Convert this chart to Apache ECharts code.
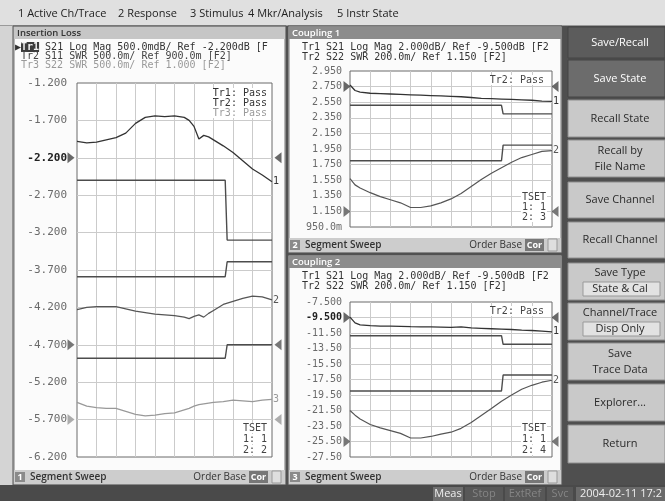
<!DOCTYPE html>
<html>
<head>
<meta charset="utf-8">
<title>Save/Recall</title>
<script src="https://cdn.jsdelivr.net/npm/echarts@6.0.0/dist/echarts.min.js"></script>
<style>
  html, body { margin: 0; padding: 0; background: #4f4f4f; }
  #chart { width: 665px; height: 501px; }
</style>
</head>
<body>
<div id="chart"></div>
<script>
// ch1 insertion loss, x is % of the sweep span
var lossX = [0, 5, 10, 15, 20, 25, 30, 35, 40, 45, 50, 55, 57.5, 60, 62.5, 65, 67.5, 70, 75, 80, 85, 90, 95, 100];
var lossTr1 = [-1.98, -2.00, -1.99, -1.96, -1.93, -1.87, -1.74, -1.66, -1.64, -1.65, -1.64, -1.66, -1.70, -1.78, -1.95, -1.90, -1.92, -1.96, -2.04, -2.13, -2.24, -2.35, -2.43, -2.52];
var lossTr2 = [-4.23, -4.20, -4.19, -4.19, -4.19, -4.22, -4.25, -4.27, -4.29, -4.30, -4.31, -4.33, -4.35, -4.32, -4.30, -4.33, -4.28, -4.24, -4.16, -4.12, -4.08, -4.05, -4.06, -4.10];
var lossTr3 = [-5.47, -5.52, -5.54, -5.55, -5.55, -5.59, -5.63, -5.65, -5.64, -5.62, -5.61, -5.57, -5.55, -5.52, -5.50, -5.49, -5.48, -5.47, -5.46, -5.44, -5.45, -5.46, -5.44, -5.43];
var lossLimX = [0, 76, 77, 100];
var lossLimA = [-2.50, -2.50, -3.30, -3.30];
var lossLimB = [-3.79, -3.79, -3.59, -3.59];
var lossLimC = [-4.88, -4.88, -4.70, -4.70];
var lossRefs = [-2.2, -4.7, -5.7];
var lossTicks = ['-1.200', '-1.700', '-2.200', '-2.700', '-3.200', '-3.700', '-4.200', '-4.700', '-5.200', '-5.700', '-6.200'];

// ch2 / ch3 coupling
var cplX = [0, 2.5, 5, 10, 15, 20, 25, 30, 35, 40, 45, 50, 55, 60, 65, 70, 75, 80, 85, 90, 95, 100];
var cplLimX = [0, 75, 75.8, 100];

var c1Tr1 = [2.77, 2.70, 2.68, 2.665, 2.66, 2.655, 2.65, 2.645, 2.64, 2.635, 2.63, 2.625, 2.62, 2.61, 2.60, 2.595, 2.59, 2.585, 2.58, 2.575, 2.565, 2.56];
var c1Tr2 = [1.57, 1.49, 1.45, 1.39, 1.34, 1.30, 1.26, 1.20, 1.20, 1.22, 1.26, 1.31, 1.38, 1.47, 1.56, 1.64, 1.71, 1.78, 1.84, 1.88, 1.92, 1.93];
var c1LimA = [2.51, 2.51, 2.40, 2.40];
var c1LimB = [1.80, 1.80, 2.00, 2.00];
var c1Refs = [2.75, 1.15];
var c1Ticks = ['2.950', '2.750', '2.550', '2.350', '2.150', '1.950', '1.750', '1.550', '1.350', '1.150', '950.0m'];

var c2Tr1 = [-9.45, -10.2, -10.45, -10.55, -10.6, -10.62, -10.65, -10.68, -10.7, -10.72, -10.75, -10.78, -10.7, -10.85, -10.9, -10.95, -11.0, -11.05, -11.12, -11.18, -11.25, -11.35];
var c2Tr2 = [-21.5, -22.1, -22.6, -23.3, -23.75, -24.1, -24.45, -25.05, -25.05, -24.85, -24.55, -24.3, -23.8, -23.05, -22.15, -21.25, -20.3, -19.5, -18.75, -18.25, -17.85, -17.6];
var c2LimA = [-11.85, -11.85, -12.96, -12.96];
var c2LimB = [-18.98, -18.98, -16.92, -16.92];
var c2Refs = [-9.5, -25.5];
var c2Ticks = ['-7.500', '-9.500', '-11.50', '-13.50', '-15.50', '-17.50', '-19.50', '-21.50', '-23.50', '-25.50', '-27.50'];

var MONO = '"DejaVu Sans Mono", monospace';
var SANS = '"Open Sans", "DejaVu Sans", sans-serif';

function pairs(xs, ys) {
    return xs.map(function (x, i) { return [x, ys[i]]; });
}

// ---- screen chrome (graphic elements) ----
var g = [];
function rect(x, y, w, h, fill, stroke) {
    g.push({ type: 'rect', z: -10, silent: true, shape: { x: x, y: y, width: w, height: h },
        style: { fill: fill, stroke: stroke || 'none', lineWidth: 1 } });
}
function text(x, y, s, font, color, align, extra) {
    var st = { text: s, font: font, fill: color, textAlign: align || 'left', textVerticalAlign: 'middle' };
    if (extra) for (var k in extra) st[k] = extra[k];
    g.push({ type: 'text', z: 50, silent: true, x: x, y: y, style: st });
}

// menu bar
rect(0, 0, 665, 26, '#e0e0e0');
rect(0, 25, 665, 1, '#9a9a9a');
rect(0, 26, 13, 460, '#d4d4d4');
var menu = [['1 Active Ch/Trace', 18], ['2 Response', 118], ['3 Stimulus', 190], ['4 Mkr/Analysis', 248], ['5 Instr State', 337]];
menu.forEach(function (m) { text(m[1], 14, m[0], '11px ' + SANS, '#222'); });

// panels
function panel(x, y, w, h, title, titleDark, num, barY) {
    rect(x, y, w, h, '#b8b8b8', '#555');
    rect(x + 1, y + 1, w - 2, 12, titleDark ? '#8c8c8c' : '#c6c6c6');
    text(x + 4, y + 7, title, '600 9.5px ' + SANS, titleDark ? '#fff' : '#333');
    rect(x + 2, y + 13, w - 4, barY - y - 13, '#fbfbfb');
    rect(x + 1, barY, w - 2, 14, '#cdcdcd');
    rect(x + 2, barY + 2, 10, 10, '#8a8a8a');
    text(x + 7, barY + 7, num, 'bold 9px ' + SANS, '#fff', 'center');
    text(x + 17, barY + 7, 'Segment Sweep', '600 10px ' + SANS, '#333');
    text(x + w - 40, barY + 7, 'Order Base', '10px ' + SANS, '#333', 'right');
    rect(x + w - 37, barY + 1, 19, 12, '#777');
    text(x + w - 27.5, barY + 7, 'Cor', 'bold 9px ' + SANS, '#fff', 'center');
    rect(x + w - 14, barY + 1, 9, 12, '#dedede', '#999');
}
panel(13, 26, 273, 459, 'Insertion Loss', false, '1', 470);
panel(288, 26, 274, 227, 'Coupling 1', true, '2', 238);
panel(288, 255, 274, 230, 'Coupling 2', true, '3', 470);

// trace headers
var hdr = '10px ' + MONO;
text(15, 47, '\u25B6{a|Tr1} S21 Log Mag 500.0mdB/ Ref -2.200dB [F', hdr, '#333', 'left',
    { rich: { a: { backgroundColor: '#3c3c3c', fill: '#f2f2f2', font: 'bold 10px ' + MONO } } });
text(21, 56, 'Tr2 S11 SWR 500.0m/ Ref 900.0m [F2]', hdr, '#444');
text(21, 65, 'Tr3 S22 SWR 500.0m/ Ref 1.000 [F2]', hdr, '#999');
[[47, 57], [276, 286]].forEach(function (ys) {
    text(302, ys[0], 'Tr1 S21 Log Mag 2.000dB/ Ref -9.500dB [F2', hdr, '#333');
    text(302, ys[1], 'Tr2 S22 SWR 200.0m/ Ref 1.150 [F2]', hdr, '#333');
});

// limit test / trace set notes inside the plots
var note = { backgroundColor: '#fff', padding: [0, 1] };
text(268, 93, 'Tr1: Pass', hdr, '#333', 'right', note);
text(268, 103, 'Tr2: Pass', hdr, '#333', 'right', note);
text(268, 113, 'Tr3: Pass', hdr, '#999', 'right', note);
text(268, 428, 'TSET', hdr, '#444', 'right', note);
text(268, 439, '1: 1', hdr, '#444', 'right', note);
text(268, 450, '2: 2', hdr, '#444', 'right', note);
text(545, 80, 'Tr2: Pass', hdr, '#444', 'right', note);
text(547, 197, 'TSET', hdr, '#444', 'right', note);
text(547, 207, '1: 1', hdr, '#444', 'right', note);
text(547, 217, '2: 3', hdr, '#444', 'right', note);
text(545, 311, 'Tr2: Pass', hdr, '#444', 'right', note);
text(547, 428, 'TSET', hdr, '#444', 'right', note);
text(547, 439, '1: 1', hdr, '#444', 'right', note);
text(547, 450, '2: 4', hdr, '#444', 'right', note);

// softkey column
rect(563, 26, 102, 460, '#4f4f4f');
function key(y, h, lines, kind, sub) {
    var fill = kind === 'head' ? '#5c5c5c' : (kind === 'dark' ? '#6c6c6c' : '#c9c9c9');
    var fg = kind ? '#fff' : '#2a2a2a';
    rect(568, y, 97, h, fill, kind ? '#444' : '#8e8e8e');
    var font = '11px ' + SANS;
    if (sub) {
        text(620, y + 10, lines[0], font, fg, 'center');
        rect(583, y + 19, 77, 14, '#e2e2e2', '#999');
        text(620, y + 26, sub, font, fg, 'center');
    } else if (lines.length === 2) {
        text(620, y + h / 2 - 8, lines[0], font, fg, 'center');
        text(620, y + h / 2 + 8, lines[1], font, fg, 'center');
    } else {
        text(620, y + h / 2, lines[0], font, fg, 'center');
    }
}
key(27, 31, ['Save/Recall'], 'head');
key(60, 37, ['Save State'], 'dark');
key(100, 37, ['Recall State']);
key(140, 37, ['Recall by', 'File Name']);
key(182, 36, ['Save Channel']);
key(222, 36, ['Recall Channel']);
key(263, 37, ['Save Type'], null, 'State & Cal');
key(303, 37, ['Channel/Trace'], null, 'Disp Only');
key(343, 37, ['Save', 'Trace Data']);
key(384, 37, ['Explorer...']);
key(425, 38, ['Return']);

// status bar
rect(0, 485, 665, 16, '#4a4a4a');
[['Meas', 433, 30, '#6e6e6e', '#eee'], ['Stop', 465, 38, '#585858', '#858585'],
 ['ExtRef', 505, 40, '#585858', '#858585'], ['Svc', 547, 26, '#585858', '#858585']].forEach(function (s) {
    rect(s[1], 487, s[2], 14, s[3]);
    text(s[1] + s[2] / 2, 494, s[0], '11px ' + SANS, s[4], 'center');
});
rect(576, 487, 89, 14, '#6a6a6a');
text(580, 494, '2004-02-11 17:2', '11px ' + SANS, '#eee');

// ---- axes ----
function yAxis(gi, min, max, step, ticks, boldLabel, fs, margin) {
    return {
        type: 'value', gridIndex: gi, min: min, max: max, interval: step,
        axisLine: { show: false }, axisTick: { show: false },
        splitLine: { show: true, showMinLine: false, showMaxLine: false, lineStyle: { color: '#cbcbcb', width: 1 } },
        axisLabel: {
            margin: margin, fontFamily: MONO, fontSize: fs, color: '#6a6a6a',
            formatter: function (v) {
                var s = ticks[Math.round((max - v) / step)];
                return s === boldLabel ? '{b|' + s + '}' : s;
            },
            rich: { b: { color: '#222', fontWeight: 'bold', fontFamily: MONO, fontSize: fs } }
        }
    };
}
function xAxis(gi) {
    return {
        type: 'value', gridIndex: gi, min: 0, max: 100, interval: 10,
        axisLine: { show: false }, axisTick: { show: false }, axisLabel: { show: false },
        splitLine: { show: true, showMinLine: false, showMaxLine: false, lineStyle: { color: '#cbcbcb', width: 1 } }
    };
}

// ---- series ----
function trace(gi, xs, ys, color, w, lbl) {
    return {
        type: 'line', xAxisIndex: gi, yAxisIndex: gi, data: pairs(xs, ys),
        symbol: 'none', showSymbol: false, animation: false, silent: true, z: 3,
        lineStyle: { color: color, width: w },
        endLabel: { show: true, formatter: lbl, color: color, fontFamily: MONO, fontSize: 10, distance: 1 }
    };
}
function limit(gi, xs, ys) {
    return {
        type: 'line', xAxisIndex: gi, yAxisIndex: gi, data: pairs(xs, ys),
        symbol: 'none', showSymbol: false, animation: false, silent: true, z: 2,
        lineStyle: { color: '#4c4c4c', width: 1.4 }
    };
}
function refMarks(gi, refs, colors, off) {
    var d = [];
    refs.forEach(function (r, i) {
        d.push({ value: [0, r], symbolRotate: -90, symbolOffset: [-off, 0], itemStyle: { color: colors[i] } });
        d.push({ value: [100, r], symbolRotate: 90, symbolOffset: [off, 0], itemStyle: { color: colors[i] } });
    });
    return {
        type: 'scatter', xAxisIndex: gi, yAxisIndex: gi, data: d, clip: false,
        symbol: 'triangle', symbolSize: [11, 7], animation: false, silent: true, z: 4
    };
}

var chart = echarts.init(document.getElementById('chart'));
chart.setOption({
    backgroundColor: '#4f4f4f',
    animation: false,
    grid: [
        { left: 77, top: 83, width: 195, height: 374, show: true, backgroundColor: '#fff', borderColor: '#6a6a6a', borderWidth: 1 },
        { left: 350, top: 71, width: 202, height: 156, show: true, backgroundColor: '#fff', borderColor: '#6a6a6a', borderWidth: 1 },
        { left: 350, top: 302, width: 202, height: 155, show: true, backgroundColor: '#fff', borderColor: '#6a6a6a', borderWidth: 1 }
    ],
    xAxis: [xAxis(0), xAxis(1), xAxis(2)],
    yAxis: [
        yAxis(0, -6.2, -1.2, 0.5, lossTicks, '-2.200', 11, 10),
        yAxis(1, 0.95, 2.95, 0.2, c1Ticks, null, 10, 8),
        yAxis(2, -27.5, -7.5, 2, c2Ticks, '-9.500', 10, 8)
    ],
    graphic: { elements: g },
    series: [
        limit(0, lossLimX, lossLimA),
        limit(0, lossLimX, lossLimB),
        limit(0, lossLimX, lossLimC),
        trace(0, lossX, lossTr1, '#333', 1.3, '1'),
        trace(0, lossX, lossTr2, '#555', 1.2, '2'),
        trace(0, lossX, lossTr3, '#999', 1.2, '3'),
        refMarks(0, lossRefs, ['#444', '#555', '#999'], 6),

        limit(1, cplLimX, c1LimA),
        limit(1, cplLimX, c1LimB),
        trace(1, cplX, c1Tr1, '#333', 1.3, '1'),
        trace(1, cplX, c1Tr2, '#555', 1.2, '2'),
        refMarks(1, c1Refs, ['#444', '#555'], 3),

        limit(2, cplLimX, c2LimA),
        limit(2, cplLimX, c2LimB),
        trace(2, cplX, c2Tr1, '#333', 1.3, '1'),
        trace(2, cplX, c2Tr2, '#555', 1.2, '2'),
        refMarks(2, c2Refs, ['#444', '#555'], 3)
    ]
});
</script>
</body>
</html>
